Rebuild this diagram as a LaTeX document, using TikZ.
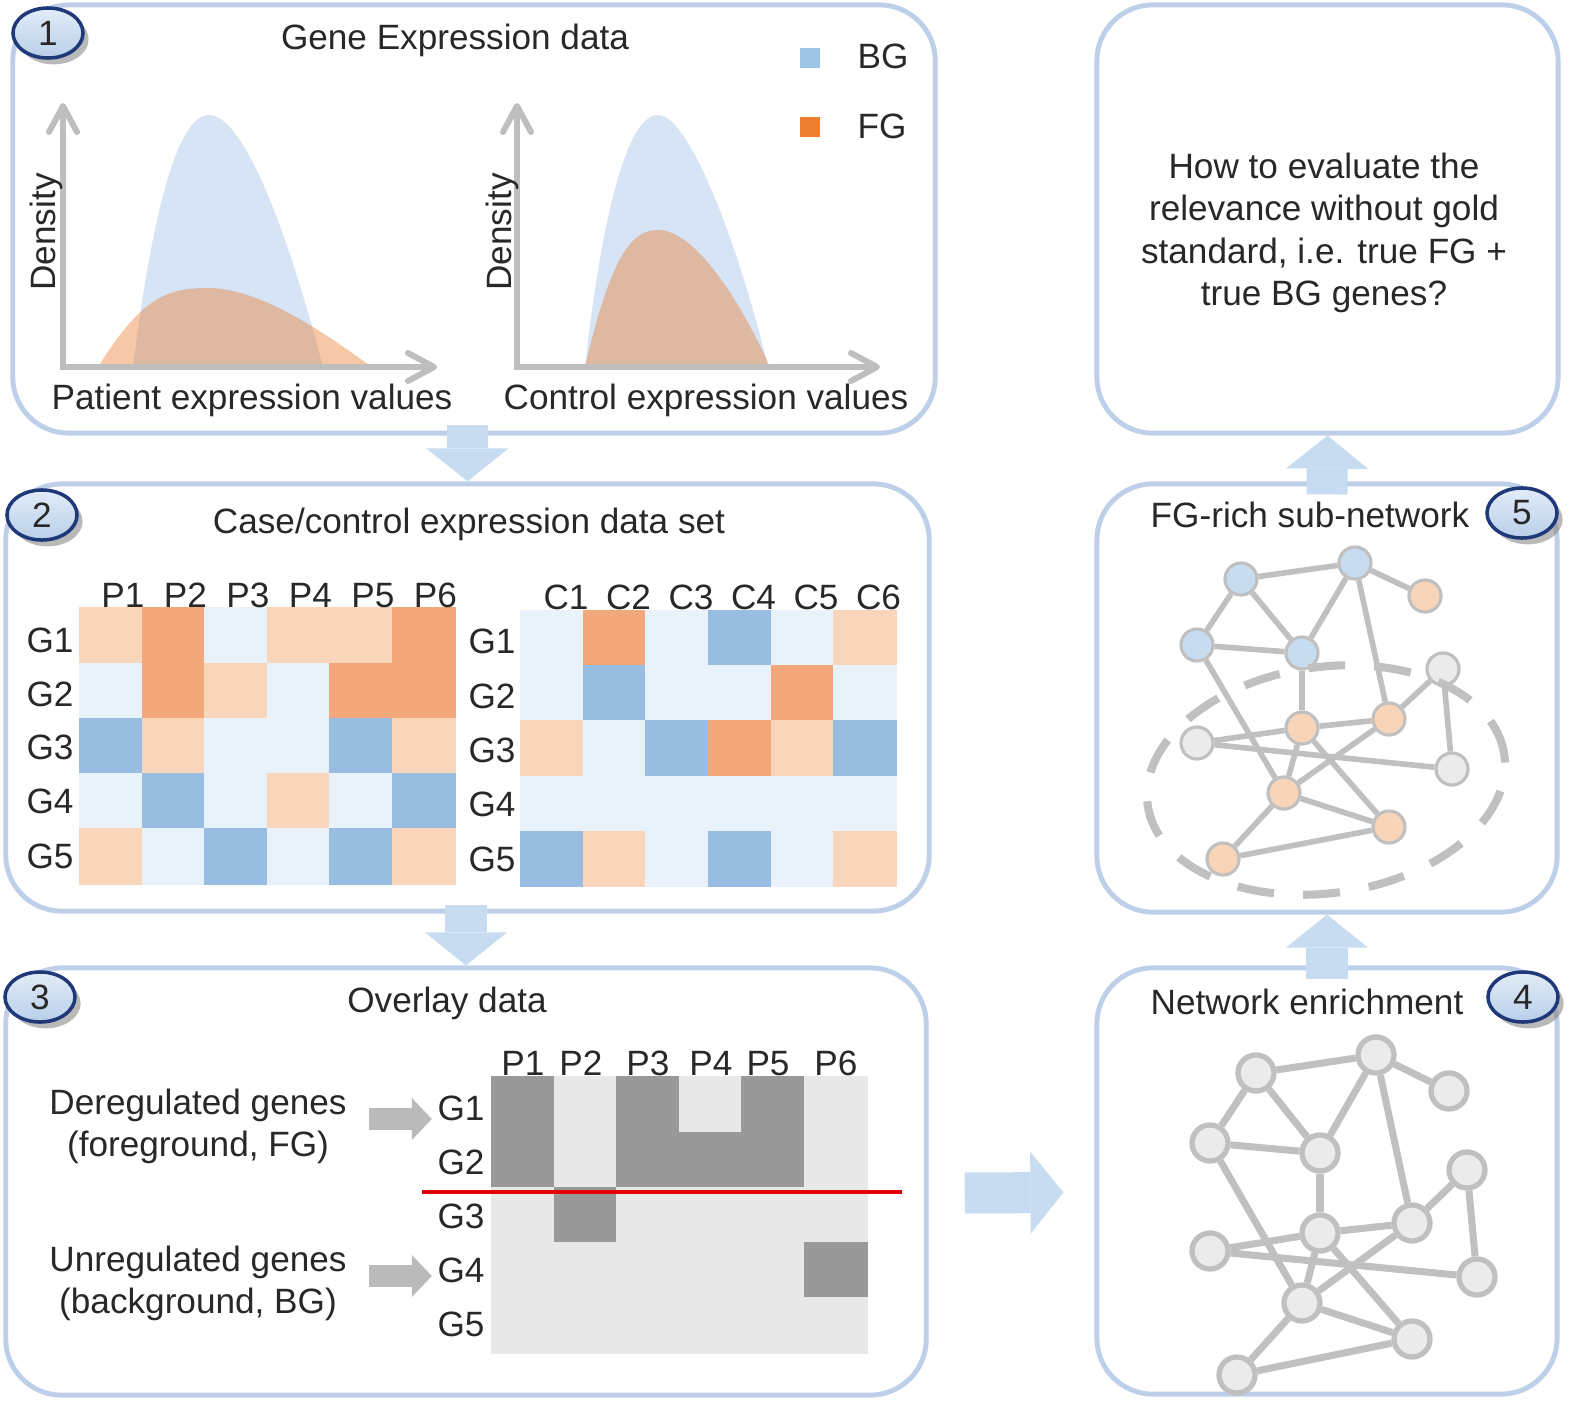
\documentclass[tikz,border=0pt]{standalone}
\usepackage{fontspec}
\setmainfont{Liberation Sans}
\usetikzlibrary{calc}
\usetikzlibrary{arrows.meta}
\usetikzlibrary{shapes.geometric}
\usetikzlibrary{shadows}
\definecolor{frame}{RGB}{190,207,234}
\definecolor{flow}{RGB}{200,220,241}
\definecolor{badgeline}{RGB}{31,56,120}
\definecolor{badgetop}{RGB}{226,236,247}
\definecolor{badgebot}{RGB}{184,207,234}
\definecolor{txt}{RGB}{40,40,40}
\definecolor{axisgray}{RGB}{190,190,190}
\definecolor{bgcurve}{RGB}{214,228,245}
\definecolor{fgcurve}{RGB}{237,125,49}
\definecolor{bgkey}{RGB}{157,195,230}
\definecolor{fl}{RGB}{248,213,187}
\definecolor{fd}{RGB}{242,168,122}
\definecolor{bl}{RGB}{233,241,250}
\definecolor{bd}{RGB}{152,189,225}
\definecolor{ovd}{RGB}{153,153,153}
\definecolor{ovl}{RGB}{232,232,232}
\definecolor{edge}{RGB}{192,192,192}
\definecolor{nodegray}{RGB}{235,235,235}
\definecolor{nodeblue}{RGB}{200,220,240}
\definecolor{nodeorange}{RGB}{248,212,184}
\definecolor{arrowgray}{RGB}{186,186,186}
\tikzstyle{panel}=[draw=frame, line width=1.4pt, rounded corners=0.56cm, inner sep=0]
\tikzstyle{badge}=[ellipse, draw=badgeline, line width=1pt, top color=badgetop, bottom color=badgebot, minimum width=0.7cm, minimum height=0.5cm, inner sep=0, drop shadow={shadow xshift=1.6pt, shadow yshift=-1.8pt, opacity=0.55}]
\tikzstyle{flowarrow}=[draw=flow, line width=0.41cm, -{Triangle[length=0.33cm,width=0.82cm,line width=0pt]}]
\tikzstyle{pointer}=[draw=arrowgray, line width=0.22cm, shorten <=0.1cm, shorten >=0.05cm, -{Triangle[length=0.2cm,width=0.42cm,line width=0pt]}]
\tikzstyle{axis}=[draw=axisgray, line width=1.7pt, >={Straight Barb[length=2.6mm,width=2.8mm,round]}, <->]
\tikzstyle{lbl}=[anchor=base, inner sep=0]
\tikzstyle{netnode}=[circle, draw=edge, line width=1.5pt, fill=nodegray, minimum size=0.36cm, inner sep=0]
\tikzstyle{subnode}=[circle, draw=edge, line width=0.9pt, minimum size=0.32cm, inner sep=0]
\tikzstyle{netedge}=[draw=edge, line width=2pt]
\tikzstyle{subedge}=[draw=edge, line width=1.6pt]
\tikzstyle{dashring}=[draw=edge, line width=2.3pt, dash pattern=on 10.5pt off 8.3pt]
% heat map: x0, y0, cell width, cell height, rows of colours
\newcommand{\heatmap}[5]{
  \foreach \row [count=\j] in {#5} {
    \foreach \c [count=\i] in \row {
      \fill[fill=\c, draw=\c, line width=0.3pt] ({#1+#3*(\i-1)},{#2+#4*(\j-1)}) rectangle ++(#3,#4);
    }
  }
}
\newcommand{\netedges}{A/B,A/D,A/E,B/E,B/C,B/G,D/E,D/K,E/H,F/G,F/J,H/G,H/I,I/J,H/K,H/L,K/G,K/L,K/M,M/L}

\begin{document}
\begin{tikzpicture}[x=0.01cm, y=-0.01cm, every node/.style={text=txt}]
  \useasboundingbox (0,0) rectangle (1575,1403);
  \fill[white] (0,0) rectangle (1575,1403);

  % panels
  \node[panel, minimum width=9.22cm, minimum height=4.28cm] (p1) at (474,219) {};
  \node[panel, minimum width=9.23cm, minimum height=4.27cm] (p2) at (467.5,697.5) {};
  \node[panel, minimum width=9.20cm, minimum height=4.27cm] (p3) at (466,1181.5) {};
  \node[panel, minimum width=4.60cm, minimum height=4.26cm] (p4) at (1327,1181) {};
  \node[panel, minimum width=4.60cm, minimum height=4.28cm] (p5) at (1327,698) {};
  \node[panel, minimum width=4.61cm, minimum height=4.28cm] (pq) at (1327.5,219) {};

  % 1: densities
  \node[lbl] (t1) at (455,50) {Gene Expression data};
  \fill[bgcurve] (133,367) .. controls (150,230) and (175,115) .. (209,115) .. controls (245,115) and (290,240) .. (323,367) -- cycle;
  \fill[fgcurve, opacity=0.42] (98,367) .. controls (140,300) and (165,288) .. (207,288) .. controls (260,288) and (320,330) .. (372,367) -- cycle;
  \fill[bgcurve] (585,367) .. controls (600,230) and (625,115) .. (658,115) .. controls (690,115) and (740,250) .. (768,367) -- cycle;
  \fill[fgcurve, opacity=0.42] (585,367) .. controls (610,260) and (630,230) .. (658,230) .. controls (695,230) and (740,300) .. (770,367) -- cycle;
  \draw[axis] (63,103) -- (63,367) -- (437,367);
  \draw[axis] (517,103) -- (517,367) -- (880,367);
  \node[rotate=90] (dens1) at (46,232) {Density};
  \node[rotate=90] (dens2) at (502,232) {Density};
  \node[lbl] (xlab1) at (252,409) {Patient expression values};
  \node[lbl] (xlab2) at (706,409) {Control expression values};
  \node[fill=bgkey, minimum size=0.2cm, inner sep=0] (kbg) at (810,58) {};
  \node[fill=fgcurve, minimum size=0.2cm, inner sep=0] (kfg) at (810,127) {};
  \node[lbl] (lbg) at (883,68) {BG};
  \node[lbl] (lfg) at (882,138) {FG};

  % 2: case/control heat maps
  \node[lbl] (t2) at (469,533) {Case/control expression data set};
  \heatmap{80}{608}{62.5}{55.2}{{fl,fd,bl,fl,fl,fd},{bl,fd,fl,bl,fd,fd},{bd,fl,bl,bl,bd,fl},{bl,bd,bl,fl,bl,bd},{fl,bl,bd,bl,bd,fl}}
  \heatmap{520.5}{610.5}{62.7}{55.2}{{bl,fd,bl,bd,bl,fl},{bl,bd,bl,bl,fd,bl},{fl,bl,bd,fd,fl,bd},{bl,bl,bl,bl,bl,bl},{bd,fl,bl,bd,bl,fl}}
  \foreach \i in {1,...,6} {
    \node[lbl] (pc\i) at ({60.5+62.5*\i},607) {P\i};
    \node[lbl] (cc\i) at ({503.5+62.5*\i},609) {C\i};
  }
  \foreach \y [count=\j] in {652,706,759,813,868} \node[lbl] (pg\j) at (50,\y) {G\j};
  \foreach \y [count=\j] in {653,708,762,816,871} \node[lbl] (cg\j) at (492,\y) {G\j};

  % 3: overlay
  \node[lbl] (t3) at (447,1012) {Overlay data};
  \heatmap{492}{1077}{62.5}{55.2}{{ovd,ovl,ovd,ovl,ovd,ovl},{ovd,ovl,ovd,ovd,ovd,ovl},{ovl,ovd,ovl,ovl,ovl,ovl},{ovl,ovl,ovl,ovl,ovl,ovd},{ovl,ovl,ovl,ovl,ovl,ovl}}
  \draw[red!90!black, line width=0.9pt] (422,1192) -- (902,1192);
  \foreach \x [count=\i] in {523,581,648,711,768,836} \node[lbl] (oc\i) at (\x,1075) {P\i};
  \foreach \y [count=\j] in {1120,1174,1228,1282,1336} \node[lbl] (og\j) at (461,\y) {G\j};
  \node[align=center] (dereg) at (198,1126) {Deregulated genes\\(foreground, FG)};
  \node[align=center] (unreg) at (198,1283) {Unregulated genes\\(background, BG)};
  \draw[pointer] ($(dereg.east)+(0,-7)$) -- ($(dereg.east -| og1.west)+(0,-7)$);
  \draw[pointer] ($(unreg.east)+(0,-7)$) -- ($(unreg.east -| og4.west)+(0,-7)$);

  % 4: network
  \node[lbl] (t4) at (1307,1014) {Network enrichment};
  \foreach \k/\x/\y in {A/1256/1073,B/1376/1055,C/1449/1091,D/1210/1143,E/1320/1153,F/1467/1170,G/1412/1223,H/1320/1233,I/1210/1251,J/1477/1277,K/1302/1303,L/1412/1339,M/1237/1375}
    \node[netnode] (n\k) at (\x,\y) {};
  \foreach \a/\b in \netedges \draw[netedge] (n\a) -- (n\b);

  % 5: sub-network
  \node[lbl] (t5) at (1310,527) {FG-rich sub-network};
  \foreach \k/\x/\y/\f in {A/1241/579/nodeblue,B/1355/563/nodeblue,C/1425/596/nodeorange,D/1197/645/nodeblue,E/1302/653/nodeblue,F/1443/669/nodegray,G/1389/719/nodeorange,H/1302/728/nodeorange,I/1197/743/nodegray,J/1452/769/nodegray,K/1284/793/nodeorange,L/1389/827/nodeorange,M/1223/859/nodeorange}
    \node[subnode, fill=\f] (s\k) at (\x,\y) {};
  \foreach \a/\b in \netedges \draw[subedge] (s\a) -- (s\b);
  \draw[dashring, rotate around={8:(1326,780)}] (1326,780) ellipse [x radius=1.8cm, y radius=1.13cm];

  % question
  \node[align=center] (q) at (1324,233) {How to evaluate the\\relevance without gold\\standard, i.e. true FG +\\true BG genes?};

  % flow between panels
  \draw[flowarrow] ($(p2.north |- p1.south)+(0,-11)$) -- (p2.north);
  \draw[flowarrow] ($(p3.north |- p2.south)+(0,-9)$) -- (p3.north);
  \draw[flowarrow] ($(p3.east)+(36,11.5)$) -- ($(p4.west)+(-31,11.5)$);
  \draw[flowarrow] ($(p4.north)+(0,14)$) -- (p5.south);
  \draw[flowarrow] ($(p5.north)+(0,13)$) -- (pq.south);

  % step numbers
  \node[badge] (b1) at (48,33) {1};
  \node[badge] (b2) at (42,515) {2};
  \node[badge] (b3) at (40,997) {3};
  \node[badge] (b4) at (1523,997) {4};
  \node[badge] (b5) at (1522,513) {5};
\end{tikzpicture}
\end{document}
